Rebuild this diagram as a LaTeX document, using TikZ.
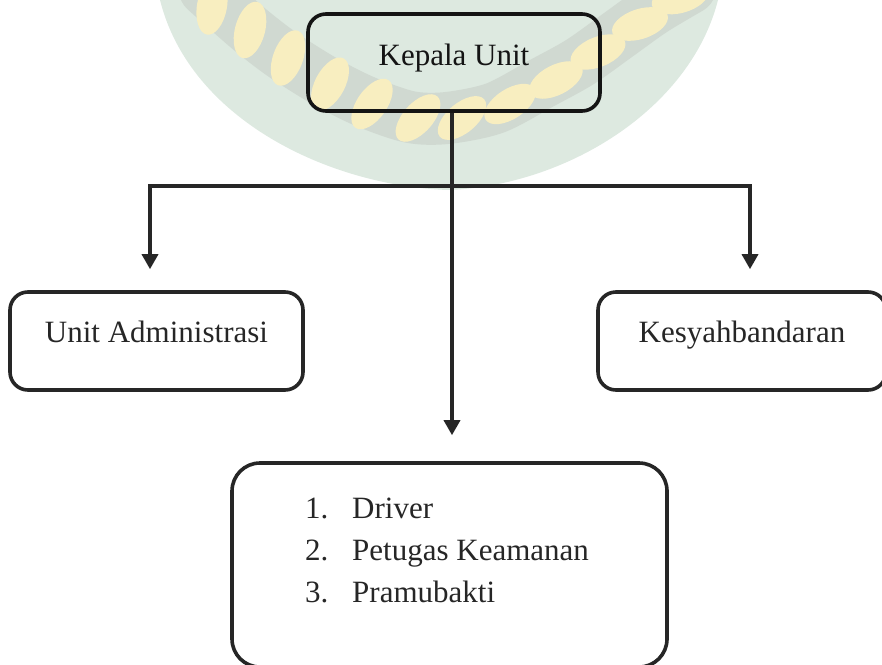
\documentclass[tikz,border=0pt]{standalone}
\usepackage{fontspec}
\setmainfont{Liberation Serif}
\usetikzlibrary{arrows.meta,calc}
\definecolor{ink}{HTML}{262626}
\definecolor{deepink}{HTML}{141414}
\definecolor{shieldfill}{HTML}{DDE9E0}
\definecolor{bandfill}{HTML}{D0D9D1}
\definecolor{leaffill}{HTML}{F8EEC0}
\tikzset{
  unitbox/.style={draw=ink, line width=3.6pt, rounded corners=18pt, inner sep=0pt,
    font=\fontsize{31}{36}\selectfont, text=ink},
  link/.style={draw=ink, line width=3.4pt},
  arr/.style={link, -{Triangle[width=16pt,length=15pt]}},
  itemtext/.style={font=\fontsize{31}{42}\selectfont, text=ink, inner sep=0pt, anchor=base west},
  leafshape/.style={fill=leaffill},
}
\begin{document}
\begin{tikzpicture}[x=1pt,y=-1pt]
\useasboundingbox (0,0) rectangle (882,664);
\clip (0,0) rectangle (882,664);

% faint emblem in the background: shield, band and wreath of grains
\fill[shieldfill] (160,0) .. controls (190,120) and (330,186) .. (448,190)
  .. controls (565,186) and (690,110) .. (718,0) -- cycle;
\draw[bandfill, line width=52pt, line cap=round]
  plot[smooth] coordinates {(205,-10) (248,28) (283,55) (326,82) (366,102) (410,117)
    (447,118) (495,108) (542,83) (580,62) (618,35) (653,10) (690,-12)};
\foreach \px/\py/\ang in {212/6/80, 250/30/75, 288/58/70, 330/84/62, 372/104/55,
    418/118/48, 462/118/40, 510/104/33, 556/80/27, 598/52/22, 640/24/18, 680/-2/15} {
  \fill[leafshape, rotate around={\ang:(\px,\py)}] (\px,\py) ellipse [x radius=29pt, y radius=15pt];
}

% units
\node[unitbox, draw=deepink, minimum width=292pt, minimum height=97pt, text height=20pt, text depth=15pt,
  text=deepink] (kepala) at (454,62.5) {Kepala Unit};
\node[unitbox, minimum width=293pt, minimum height=98pt, text height=20pt, text depth=18pt]
  (adm) at (156.5,341) {Unit Administrasi};
\node[unitbox, minimum width=288pt, minimum height=98pt, text height=20pt, text depth=18pt]
  (kes) at (742,341) {Kesyahbandaran};
\node[unitbox, rounded corners=28pt, minimum width=435pt, minimum height=204pt]
  (staf) at (449.5,565) {};

% staff list
\node[itemtext] (i1) at (305,518) {\makebox[47pt][l]{1.}Driver};
\node[itemtext] (i2) at (305,560) {\makebox[47pt][l]{2.}Petugas Keamanan};
\node[itemtext] (i3) at (305,602) {\makebox[47pt][l]{3.}Pramubakti};

% connectors
\coordinate (jn) at (452,186);
\coordinate (jl) at (150,186);
\coordinate (jr) at (750,186);
\draw[arr, shorten >=26pt] (kepala.south -| jn) -- (jn) -- (staf.north -| jn);
\draw[arr, shorten >=21pt] (jn) -- (jl) -- (jl |- adm.north);
\draw[arr, shorten >=21pt] (jn) -- (jr) -- (jr |- kes.north);
\end{tikzpicture}
\end{document}
